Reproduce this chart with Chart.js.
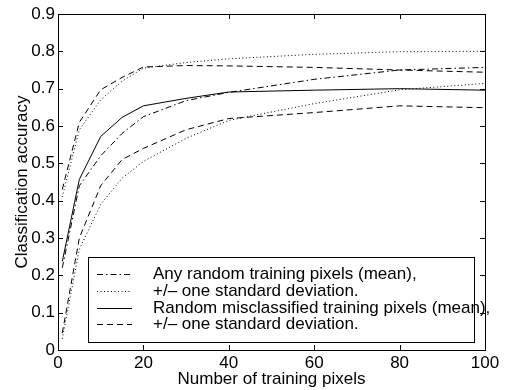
<!DOCTYPE html>
<html>
<head>
<meta charset="utf-8">
<script src="https://cdn.jsdelivr.net/npm/chart.js@4.4.1/dist/chart.umd.min.js"></script>
<style>
  html, body { margin: 0; padding: 0; background: #fff; }
</style>
</head>
<body>
<canvas id="chart" width="509" height="390"></canvas>
<script>
// number of training pixels (x)
const pixels = [1, 5, 10, 15, 20, 30, 40, 60, 80, 100];

// any random training pixels
const anyMean  = [0.22, 0.44, 0.52, 0.58, 0.625, 0.668, 0.69, 0.725, 0.75, 0.757];
const anyUpper = [0.41, 0.59, 0.67, 0.72, 0.755, 0.77, 0.78, 0.792, 0.799, 0.80];
const anyLower = [0.03, 0.27, 0.39, 0.46, 0.505, 0.567, 0.615, 0.66, 0.697, 0.714];

// random misclassified training pixels
const misMean  = [0.237, 0.457, 0.572, 0.623, 0.654, 0.674, 0.691, 0.696, 0.70, 0.696];
const misUpper = [0.43, 0.61, 0.697, 0.73, 0.758, 0.762, 0.761, 0.757, 0.75, 0.744];
const misLower = [0.045, 0.30, 0.44, 0.51, 0.54, 0.59, 0.62, 0.636, 0.654, 0.649];

const xTicks = [0, 20, 40, 60, 80, 100];
const yTicks = [0, 0.1, 0.2, 0.3, 0.4, 0.5, 0.6, 0.7, 0.8, 0.9];

const legendLabels = [
  "Any random training pixels (mean),",
  "+/\u2013 one standard deviation.",
  "Random misclassified training pixels (mean),",
  "+/\u2013 one standard deviation."
];

const FONT = "'Liberation Sans', Arial, Helvetica, sans-serif";

const dashDot = [6, 3, 1.5, 3];
const dotted = [1, 2.5];
const dashed = [6, 4];

function points(ys) {
  return pixels.map((x, i) => ({ x: x, y: ys[i] }));
}

function line(label, ys, dash) {
  return {
    label: label,
    data: points(ys),
    borderColor: "#000",
    borderWidth: 1,
    borderDash: dash,
    pointRadius: 0,
    tension: 0,
    fill: false
  };
}


// box + inward ticks on all four sides
const framePlugin = {
  id: "frame",
  afterDraw(chart) {
    const ctx = chart.ctx;
    const a = chart.chartArea;
    const xs = chart.scales.x;
    const ys = chart.scales.y;
    const len = 5;

    ctx.save();
    ctx.strokeStyle = "#000";
    ctx.lineWidth = 1;
    ctx.setLineDash([]);
    ctx.strokeRect(Math.round(a.left) + 0.5, Math.round(a.top) + 0.5,
      Math.round(a.right - a.left), Math.round(a.bottom - a.top));

    ctx.beginPath();
    xs.ticks.forEach(t => {
      const px = Math.round(xs.getPixelForValue(t.value)) + 0.5;
      ctx.moveTo(px, a.bottom);
      ctx.lineTo(px, a.bottom - len);
      ctx.moveTo(px, a.top);
      ctx.lineTo(px, a.top + len);
    });
    ys.ticks.forEach(t => {
      const py = Math.round(ys.getPixelForValue(t.value)) + 0.5;
      ctx.moveTo(a.left, py);
      ctx.lineTo(a.left + len, py);
      ctx.moveTo(a.right, py);
      ctx.lineTo(a.right - len, py);
    });
    ctx.stroke();
    ctx.restore();
  }
};


// matlab style legend box in lower right
const legendPlugin = {
  id: "boxLegend",
  afterDraw(chart) {
    const ctx = chart.ctx;
    const a = chart.chartArea;
    const left = a.left + 30;
    const right = a.right - 11;
    const bottom = a.bottom - 8;
    const top = bottom - 85;
    const dashes = [dashDot, dotted, [], dashed];

    ctx.save();
    ctx.fillStyle = "#fff";
    ctx.fillRect(left, top, right - left, bottom - top);
    ctx.strokeStyle = "#000";
    ctx.lineWidth = 1;
    ctx.setLineDash([]);
    ctx.strokeRect(Math.round(left) + 0.5, Math.round(top) + 0.5,
      Math.round(right - left), Math.round(bottom - top));

    ctx.font = "17px " + FONT;
    ctx.textBaseline = "middle";
    ctx.fillStyle = "#000";

    legendLabels.forEach((label, i) => {
      const y = Math.round(top + 17 + i * 16.8) + 0.5;
      ctx.setLineDash(dashes[i]);
      ctx.beginPath();
      ctx.moveTo(left + 9, y);
      ctx.lineTo(left + 44, y);
      ctx.stroke();
      ctx.fillText(label, left + 65, y);
    });
    ctx.restore();
  }
};


new Chart(document.getElementById("chart"), {
  type: "line",
  data: {
    datasets: [
      line(legendLabels[0], anyMean, dashDot),
      line(legendLabels[1], anyUpper, dotted),
      line("", anyLower, dotted),
      line(legendLabels[2], misMean, []),
      line(legendLabels[3], misUpper, dashed),
      line("", misLower, dashed)
    ]
  },
  options: {
    responsive: false,
    animation: false,
    layout: {
      padding: { top: 14, right: 24, left: 0, bottom: 0 }
    },
    plugins: {
      legend: { display: false },
      tooltip: { enabled: false }
    },
    scales: {
      x: {
        type: "linear",
        min: 0,
        max: 100,
        afterBuildTicks: s => { s.ticks = xTicks.map(v => ({ value: v })); },
        afterFit: s => { s.height = 40; },
        grid: { display: false, drawTicks: false },
        border: { display: false },
        ticks: {
          color: "#000",
          padding: 3,
          maxRotation: 0,
          font: { family: FONT, size: 17 },
          callback: v => String(v)
        },
        title: {
          display: true,
          text: "Number of training pixels",
          color: "#000",
          padding: { top: 0, bottom: 0 },
          font: { family: FONT, size: 17 }
        }
      },
      y: {
        type: "linear",
        min: 0,
        max: 0.9,
        afterBuildTicks: s => { s.ticks = yTicks.map(v => ({ value: v })); },
        afterFit: s => { s.width = 58; },
        grid: { display: false, drawTicks: false },
        border: { display: false },
        ticks: {
          color: "#000",
          padding: 3,
          font: { family: FONT, size: 17 },
          callback: v => (v === 0 ? "0" : Number(v).toFixed(1))
        },
        title: {
          display: true,
          text: "Classification accuracy",
          color: "#000",
          padding: { top: 12, bottom: 0 },
          font: { family: FONT, size: 17 }
        }
      }
    }
  },
  plugins: [framePlugin, legendPlugin]
});
</script>
</body>
</html>
